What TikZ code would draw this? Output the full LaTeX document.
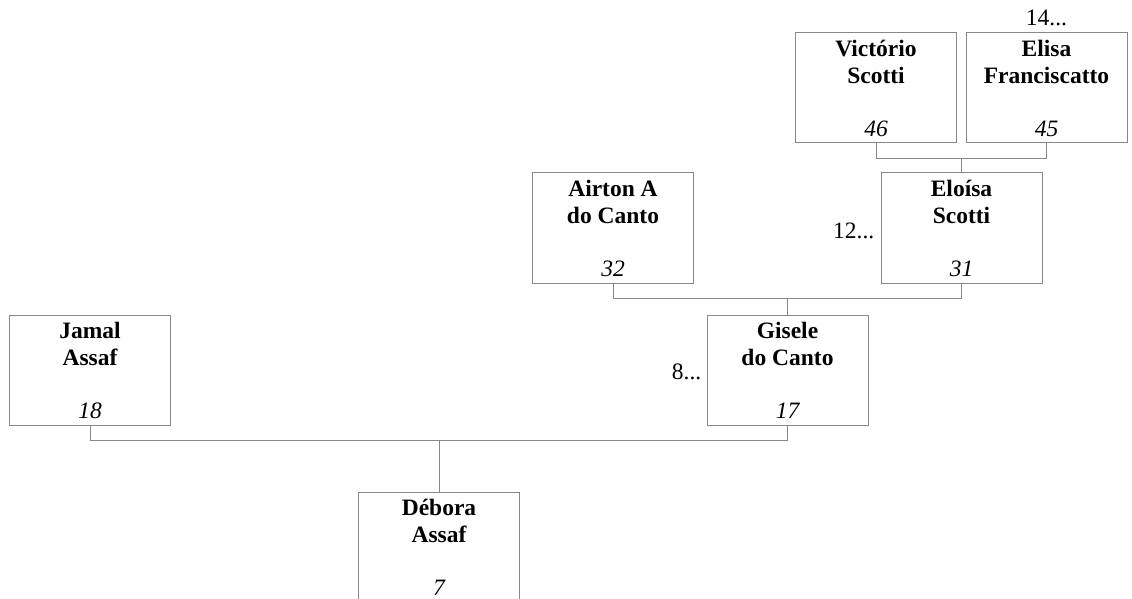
\documentclass[tikz,border=0pt]{standalone}
\usepackage{fontspec}
\setmainfont{Liberation Serif}
\usetikzlibrary{positioning,calc}
\definecolor{linegray}{RGB}{136,136,136}
\tikzset{
person/.style={
  rectangle,
  draw=linegray,
  line width=1pt,
  minimum width=161pt,
  minimum height=110pt,
  inner sep=0pt
  },
personname/.style={inner sep=0pt, align=center, font=\fontsize{23.5}{27}\selectfont\bfseries},
personid/.style={inner sep=0pt, font=\fontsize{23.5}{27}\selectfont\itshape},
more/.style={inner sep=0pt, font=\fontsize{23.5}{27}\selectfont},
link/.style={draw=linegray, line width=1pt},
%bar/.style={dashed}
}
\begin{document}
\begin{tikzpicture}[x=1pt,y=1pt]
    \path [use as bounding box, clip] (0,0) rectangle (1132,598);
    \foreach \p/\x/\y/\a/\b/\n in {
        vs/876/510/Victório/Scotti/46,
        ef/1046.5/510/Elisa/Franciscatto/45,
        es/961.5/370/Eloísa/Scotti/31,
        ac/613/370/Airton A/do Canto/32,
        gc/787.5/228/Gisele/do Canto/17,
        ja/90/228/Jamal/Assaf/18,
        da/439/51/Débora/Assaf/7}
    {
        \node [person] (\p) at (\x,\y) {};
        \node [personname, below=5pt of \p.north] (\p-name) {\rule{0pt}{19pt}\a\\\b};
        \node [personid, above=7pt of \p.south] (\p-id) {\n};
    }
    \node [more, above=6pt of ef.north] (ef-more) {14...};
    \node [more, left=6pt of es.west, yshift=-3pt] (es-more) {12...};
    \node [more, left=5pt of gc.west, yshift=-2pt] (gc-more) {8...};
    % father / mother / child
    \foreach \f/\m/\c in {vs/ef/es, ac/es/gc, ja/gc/da}
    {
        \coordinate (\c-bar) at ($(\f.south)+(0,-15)$);
        \draw [link] (\f.south) -- (\c-bar) -| (\m.south);
        \draw [link] (\c.north) -- (\c.north |- \c-bar);
    }
\end{tikzpicture}
\end{document}
